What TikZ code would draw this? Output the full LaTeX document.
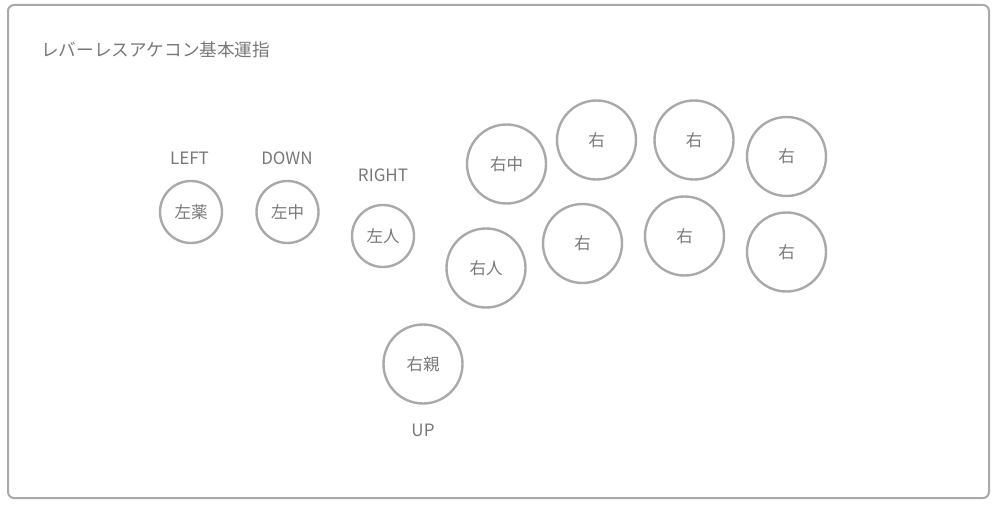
\documentclass[tikz,border=0pt]{standalone}
\usepackage{fontspec}
\setmainfont{Noto Sans CJK JP}
\usetikzlibrary{positioning}
\definecolor{rimgray}{HTML}{A9A9A9}
\definecolor{textgray}{HTML}{787878}
\tikzset{
  button/.style={shape=circle,draw=rimgray,line width=2.4pt,fill=none,inner sep=0pt,
    text=textgray,font=\fontsize{16.5}{18}\selectfont},
  small/.style={minimum size=62pt},
  big/.style={minimum size=79pt},
  lablstyle/.style={draw=none,fill=none,inner sep=0pt,text=textgray,font=\fontsize{17}{19}\selectfont}
}
\newcommand{\btn}[5]{\node[button,#1] (#2) at ( #3 , #4 ) {#5};}
\newcommand{\labl}[4]{\node[lablstyle] (#1) at ( #2 , #3 ) {#4};}

\begin{document}
\begin{tikzpicture}[x=1pt,y=-1pt]
        \useasboundingbox (0,0) rectangle (999,508);
        % frame
        \draw[draw=rimgray,line width=2pt,rounded corners=6pt] (8,5) rectangle (989,498);
        \node[lablstyle,anchor=west,font=\fontsize{17.6}{20}\selectfont] (title) at (41,50) {レバーレスアケコン基本運指};

        % left hand
        \btn{small}{lring}{191}{212}{左薬}
        \btn{small}{lmid}{287.5}{212}{左中}
        \btn{small}{lidx}{383}{236}{左人}

        % right thumb
        \btn{big}{rthumb}{423}{364}{右親}

        % right hand, upper row
        \btn{big}{rmid}{506.5}{164}{右中}
        \btn{big}{rtopa}{596.5}{140}{右}
        \btn{big}{rtopb}{694}{140}{右}
        \btn{big}{rtopc}{786.5}{156.5}{右}
        % right hand, lower row
        \btn{big}{ridx}{486}{268}{右人}
        \btn{big}{rlowa}{582.5}{243.5}{右}
        \btn{big}{rlowb}{684.5}{236}{右}
        \btn{big}{rlowc}{786.5}{252}{右}

        % directions
        \labl{left}{189.5}{158}{LEFT}
        \labl{down}{287}{158}{DOWN}
        \labl{right}{383}{175.5}{RIGHT}
        \labl{up}{423}{430}{UP}
\end{tikzpicture}
\end{document}
